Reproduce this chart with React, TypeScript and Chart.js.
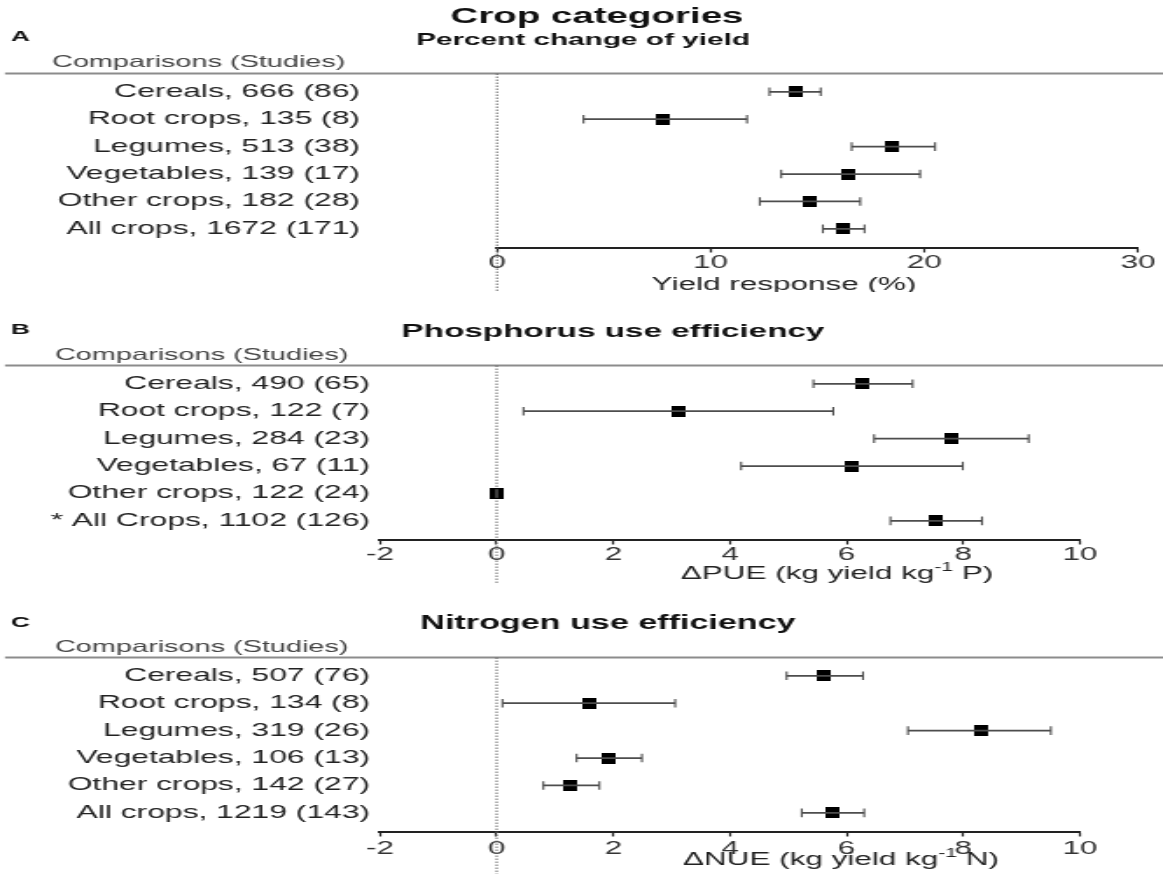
import React, { useEffect, useRef } from 'react';
import { Chart, registerables } from 'chart.js';

Chart.register(...registerables);

const FONT = '"Liberation Sans", Arial, Helvetica, sans-serif';
// The reference figure is horizontally stretched: draw at 665px wide, display at 1163px.
const INNER_W = 665;
const OUTER_W = 1163;
const S = OUTER_W / INNER_W;

// ---------- Panel A: Percent change of yield ----------
const CATEGORIES_A = [
  'Cereals, 666 (86)',
  'Root crops, 135 (8)',
  'Legumes, 513 (38)',
  'Vegetables, 139 (17)',
  'Other crops, 182 (28)',
  'All crops, 1672 (171)',
];
const YIELD_EST = [13.95, 7.8, 18.5, 16.45, 14.6, 16.2];
const YIELD_LO = [12.75, 4.05, 16.6, 13.3, 12.3, 15.25];
const YIELD_HI = [15.15, 11.7, 20.5, 19.8, 17.0, 17.2];
const YIELD_TICKS = [0, 10, 20, 30];

// ---------- Panel B: Phosphorus use efficiency ----------
const CATEGORIES_B = [
  'Cereals, 490 (65)',
  'Root crops, 122 (7)',
  'Legumes, 284 (23)',
  'Vegetables, 67 (11)',
  'Other crops, 122 (24)',
  '* All Crops, 1102 (126)',
];
const PUE_EST = [6.28, 3.12, 7.8, 6.1, 0.0, 7.52];
const PUE_LO = [5.43, 0.46, 6.47, 4.19, 0.0, 6.75];
const PUE_HI = [7.13, 5.77, 9.12, 7.99, 0.0, 8.32];

// ---------- Panel C: Nitrogen use efficiency ----------
const CATEGORIES_C = [
  'Cereals, 507 (76)',
  'Root crops, 134 (8)',
  'Legumes, 319 (26)',
  'Vegetables, 106 (13)',
  'Other crops, 142 (27)',
  'All crops, 1219 (143)',
];
const NUE_EST = [5.61, 1.58, 8.29, 1.93, 1.27, 5.76];
const NUE_LO = [4.97, 0.1, 7.05, 1.37, 0.8, 5.23];
const NUE_HI = [6.28, 3.06, 9.5, 2.49, 1.76, 6.3];

const EFF_TICKS = [-2, 0, 2, 4, 6, 8, 10];

// ---------- layout (reference pixels) ----------
const PLOT_TOP = 73.5;
const PLOT_BOTTOM = 247.5;
const Y_MIN = -0.668;
const Y_MAX = 5.68;

type TitleSpec = { text: string; x: number; y: number; size: number };
type PanelSpec = {
  height: number;
  labels: string[];
  est: number[];
  lo: number[];
  hi: number[];
  ticks: number[];
  xMin: number;
  xMax: number;
  plotLeft: number;
  plotRight: number;
  labelRight: number;
  letter: string;
  letterY: number;
  titles: TitleSpec[];
  compX: number;
  compY: number;
  axisPre: string;
  axisSup: string;
  axisPost: string;
  axisX: number;
  axisDy: number;
  tickPad: number;
};

const PANELS: PanelSpec[] = [
  {
    height: 292,
    labels: CATEGORIES_A,
    est: YIELD_EST,
    lo: YIELD_LO,
    hi: YIELD_HI,
    ticks: YIELD_TICKS,
    xMin: 0,
    xMax: 30,
    plotLeft: 497,
    plotRight: 1138,
    labelRight: 360,
    letter: 'A',
    letterY: 37,
    titles: [
      { text: 'Crop categories', x: 597, y: 17, size: 22 },
      { text: 'Percent change of yield', x: 583, y: 40.5, size: 17 },
    ],
    compX: 52,
    compY: 62.5,
    axisPre: 'Yield response (%)',
    axisSup: '',
    axisPost: '',
    axisX: 784,
    axisDy: 38,
    tickPad: -0.5,
  },
  {
    height: 292,
    labels: CATEGORIES_B,
    est: PUE_EST,
    lo: PUE_LO,
    hi: PUE_HI,
    ticks: EFF_TICKS,
    xMin: -2,
    xMax: 10,
    plotLeft: 380,
    plotRight: 1080,
    labelRight: 370,
    letter: 'B',
    letterY: 38,
    titles: [{ text: 'Phosphorus use efficiency', x: 613, y: 40, size: 19 }],
    compX: 55,
    compY: 63,
    axisPre: '\u0394PUE (kg yield kg',
    axisSup: '-1',
    axisPost: ' P)',
    axisX: 837,
    axisDy: 35,
    tickPad: 0,
  },
  {
    height: 291,
    labels: CATEGORIES_C,
    est: NUE_EST,
    lo: NUE_LO,
    hi: NUE_HI,
    ticks: EFF_TICKS,
    xMin: -2,
    xMax: 10,
    plotLeft: 380,
    plotRight: 1080,
    labelRight: 370,
    letter: 'C',
    letterY: 39,
    titles: [{ text: 'Nitrogen use efficiency', x: 608, y: 40, size: 19.5 }],
    compX: 55,
    compY: 63,
    axisPre: '\u0394NUE (kg yield kg',
    axisSup: '-1',
    axisPost: ' N)',
    axisX: 841,
    axisDy: 29,
    tickPad: 1.5,
  },
];

function makeDecor(spec: PanelSpec) {
  return {
    id: 'forestDecor' + spec.letter,
    beforeDatasetsDraw(chart: any) {
      const { ctx, chartArea } = chart;
      const xs = chart.scales.x;
      ctx.save();
      // header separator line
      ctx.strokeStyle = '#8c8c8c';
      ctx.lineWidth = 2;
      ctx.beginPath();
      ctx.moveTo(5 / S, chartArea.top);
      ctx.lineTo(chart.width, chartArea.top);
      ctx.stroke();
      // dotted zero reference line
      const x0 = xs.getPixelForValue(0);
      ctx.strokeStyle = '#666';
      ctx.lineWidth = 1;
      ctx.setLineDash([1.5, 1.5]);
      ctx.beginPath();
      ctx.moveTo(x0, chartArea.top);
      ctx.lineTo(x0, chart.height - 1);
      ctx.stroke();
      ctx.restore();
    },
    afterDraw(chart: any) {
      const { ctx, chartArea } = chart;
      ctx.save();
      ctx.textBaseline = 'middle';
      // panel letter
      ctx.fillStyle = '#111';
      ctx.textAlign = 'left';
      ctx.font = `bold 15px ${FONT}`;
      ctx.fillText(spec.letter, 11 / S, spec.letterY);
      // titles
      ctx.textAlign = 'center';
      for (const t of spec.titles) {
        ctx.font = `bold ${t.size}px ${FONT}`;
        ctx.fillText(t.text, t.x / S, t.y);
      }
      // column header
      ctx.textAlign = 'left';
      ctx.fillStyle = '#444';
      ctx.font = `16.5px ${FONT}`;
      ctx.fillText('Comparisons (Studies)', spec.compX / S, spec.compY);
      // x-axis title with optional superscript
      ctx.fillStyle = '#222';
      const mainFont = `18px ${FONT}`;
      const supFont = `12px ${FONT}`;
      ctx.font = mainFont;
      const wPre = ctx.measureText(spec.axisPre).width;
      const wPost = ctx.measureText(spec.axisPost).width;
      ctx.font = supFont;
      const wSup = ctx.measureText(spec.axisSup).width;
      const total = wPre + wSup + wPost;
      let x = spec.axisX / S - total / 2;
      const y = chartArea.bottom + spec.axisDy;
      ctx.font = mainFont;
      ctx.fillText(spec.axisPre, x, y);
      x += wPre;
      if (spec.axisSup) {
        ctx.font = supFont;
        ctx.fillText(spec.axisSup, x, y - 7);
        x += wSup;
        ctx.font = mainFont;
        ctx.fillText(spec.axisPost, x, y);
      }
      ctx.restore();
    },
  };
}

function Panel({ spec }: { spec: PanelSpec }) {
  const ref = useRef<HTMLCanvasElement | null>(null);

  useEffect(() => {
    const canvas = ref.current;
    if (!canvas) return;

    const marker = document.createElement('canvas');
    marker.width = 8;
    marker.height = 11;
    const mctx = marker.getContext('2d');
    if (mctx) {
      mctx.fillStyle = '#000';
      mctx.fillRect(0, 0, 8, 11);
    }

    const rows = spec.labels.map((_, i) => i);
    const ciData: { x: number | null; y: number }[] = [];
    rows.forEach((i) => {
      ciData.push({ x: spec.lo[i], y: i }, { x: spec.hi[i], y: i }, { x: null, y: i });
    });
    const capData = rows.flatMap((i) => [
      { x: spec.lo[i], y: i },
      { x: spec.hi[i], y: i },
    ]);
    const estData = rows.map((i) => ({ x: spec.est[i], y: i }));

    const labelGap = (spec.plotLeft - spec.labelRight) / S;

    const chart = new Chart(canvas, {
      type: 'scatter',
      data: {
        datasets: [
          {
            data: ciData as any,
            showLine: true,
            spanGaps: false,
            borderColor: '#4d4d4d',
            borderWidth: 1.7,
            pointRadius: 0,
            pointHoverRadius: 0,
          },
          {
            data: capData,
            showLine: false,
            pointStyle: 'line',
            pointRotation: 90,
            pointRadius: 4.3,
            pointBorderColor: '#4d4d4d',
            pointBorderWidth: 1.1,
            pointHoverRadius: 4.3,
          },
          {
            data: estData,
            showLine: false,
            pointStyle: marker as any,
            pointRadius: 5,
            pointHoverRadius: 5,
          },
        ],
      },
      options: {
        animation: false,
        responsive: false,
        maintainAspectRatio: false,
        devicePixelRatio: 1,
        events: [],
        layout: {
          padding: { top: PLOT_TOP, bottom: 0, left: 0, right: (OUTER_W - spec.plotRight) / S },
        },
        plugins: {
          legend: { display: false },
          tooltip: { enabled: false },
          title: { display: false },
        },
        scales: {
          x: {
            type: 'linear',
            min: spec.xMin,
            max: spec.xMax,
            afterBuildTicks: (sc: any) => {
              sc.ticks = spec.ticks.map((v) => ({ value: v }));
            },
            afterFit: (sc: any) => {
              sc.height = spec.height - PLOT_BOTTOM;
            },
            grid: {
              display: true,
              drawOnChartArea: false,
              drawTicks: true,
              tickLength: 5,
              tickWidth: 1.2,
              tickColor: '#222',
            },
            border: { display: true, color: '#222', width: 2 },
            ticks: {
              color: '#333',
              font: { family: FONT, size: 18 },
              padding: spec.tickPad,
              maxRotation: 0,
              autoSkip: false,
            },
          },
          y: {
            type: 'linear',
            reverse: true,
            min: Y_MIN,
            max: Y_MAX,
            afterBuildTicks: (sc: any) => {
              sc.ticks = rows.map((i) => ({ value: i }));
            },
            afterFit: (sc: any) => {
              sc.width = spec.plotLeft / S;
            },
            // invisible tick marks carry the gap between labels and plot area
            grid: { display: false, drawTicks: true, tickLength: Math.max(labelGap - 2, 0) },
            border: { display: false },
            ticks: {
              autoSkip: false,
              color: '#222',
              font: { family: FONT, size: 18.2 },
              padding: 2,
              callback: (_v: any, i: number) => spec.labels[i],
            },
          },
        },
      },
      plugins: [makeDecor(spec)],
    } as any);

    return () => {
      chart.destroy();
    };
  }, [spec]);

  return (
    <canvas
      ref={ref}
      width={INNER_W}
      height={spec.height}
      style={{ display: 'block', width: `${OUTER_W}px`, height: `${spec.height}px` }}
    />
  );
}

export default function App() {
  return (
    <div
      style={{
        position: 'absolute',
        left: 0,
        top: 0,
        width: OUTER_W,
        height: 875,
        background: '#fff',
        overflow: 'hidden',
      }}
    >
      {PANELS.map((p) => (
        <Panel key={p.letter} spec={p} />
      ))}
    </div>
  );
}
